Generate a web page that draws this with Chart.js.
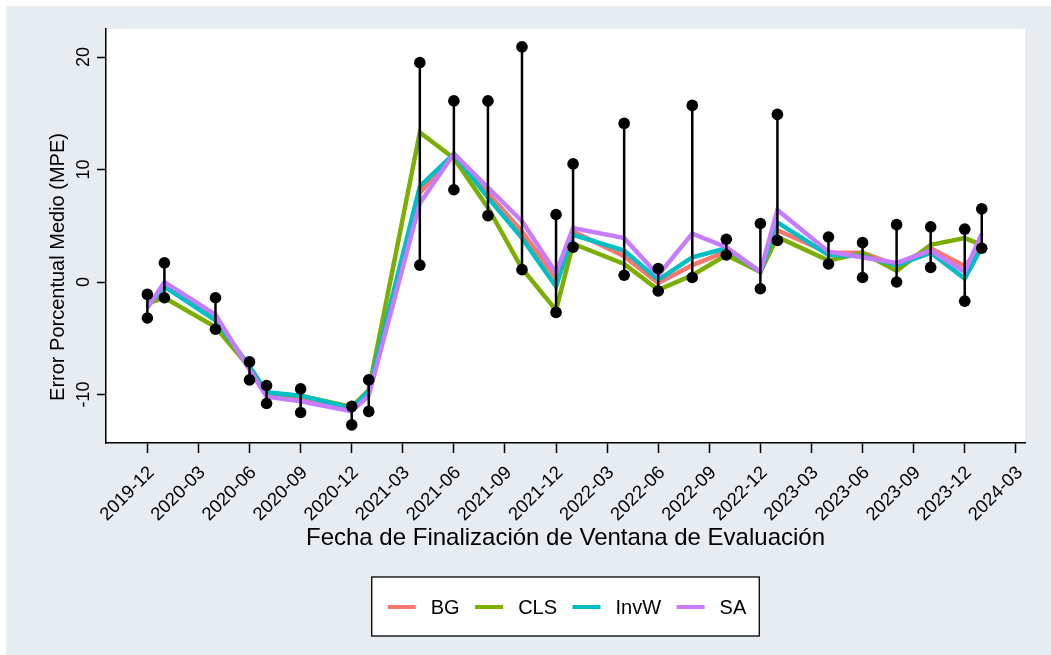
<!DOCTYPE html>
<html>
<head>
<meta charset="utf-8">
<script src="https://cdn.jsdelivr.net/npm/chart.js@4.4.1/dist/chart.umd.min.js"></script>
<style>
  html, body { margin: 0; padding: 0; background: #ffffff; }
  #wrap { position: absolute; left: 0; top: 0; width: 1051px; height: 655px; }
</style>
</head>
<body>
<div id="wrap"><canvas id="c" width="1051" height="655"></canvas></div>
<script>
// ---- data ----
const dates = ['2019-12','2020-01','2020-04','2020-06','2020-07','2020-09','2020-12','2021-01',
  '2021-04','2021-06','2021-08','2021-10','2021-12','2022-01','2022-04','2022-06','2022-08',
  '2022-10','2022-12','2023-01','2023-04','2023-06','2023-08','2023-10','2023-12','2024-01'];

const seriesBG   = [-2.2, -0.3, -3.2, -7.7, -10.0, -10.3, -11.3, -9.8, 7.9, 11.4, 7.9, 4.5, 0.3, 4.5, 2.3, -0.1, 1.5, 2.7, 0.9, 4.6, 2.6, 2.6, 1.5, 3.0, 1.4, 3.2];
const seriesCLS  = [-1.9, -1.4, -4.0, -7.6, -9.9, -10.1, -11.1, -9.6, 13.3, 11.0, 6.6, 1.2, -2.5, 3.4, 1.6, -0.7, 0.6, 2.4, 0.9, 4.0, 1.9, 2.6, 1.0, 3.3, 3.9, 3.3];
const seriesInvW = [-2.1, -0.4, -3.4, -7.5, -9.8, -10.1, -11.2, -9.7, 8.5, 11.4, 7.5, 3.9, -0.4, 4.2, 2.8, 0.2, 2.2, 3.0, 0.9, 5.3, 2.4, 2.3, 1.5, 2.6, 0.3, 3.1];
const seriesSA   = [-2.3, 0.0, -2.9, -7.8, -10.2, -10.6, -11.5, -10.1, 7.0, 11.4, 8.4, 5.4, 0.8, 4.8, 3.9, 0.6, 4.3, 3.1, 0.9, 6.4, 2.7, 2.2, 1.7, 2.8, 0.9, 4.3];

const rangeHi = [-1.1, 1.7, -1.4, -7.1, -9.2, -9.5, -11.05, -8.7, 19.5, 16.1, 16.1, 20.9, 6.0, 10.5, 14.1, 1.2, 15.7, 3.8, 5.2, 14.9, 4.0, 3.5, 5.1, 4.9, 4.7, 6.5];
const rangeLo = [-3.2, -1.4, -4.2, -8.7, -10.8, -11.6, -12.7, -11.5, 1.5, 8.2, 5.9, 1.1, -2.7, 3.1, 0.6, -0.8, 0.4, 2.4, -0.6, 3.7, 1.6, 0.4, 0.0, 1.3, -1.7, 3.0];

const xTickLabels = ['2019-12','2020-03','2020-06','2020-09','2020-12','2021-03','2021-06','2021-09',
  '2021-12','2022-03','2022-06','2022-09','2022-12','2023-03','2023-06','2023-09','2023-12','2024-03'];
const yTickValues = [-10, 0, 10, 20];

const seriesNames  = ['BG', 'CLS', 'InvW', 'SA'];
const seriesColors = ['#F8766D', '#7CAE00', '#00BFC4', '#C77CFF'];

const xTitle = 'Fecha de Finalización de Ventana de Evaluación';
const yTitle = 'Error Porcentual Medio (MPE)';

// month index (0 = 2019-12)
function monthIndex(s) {
  const [y, m] = s.split('-').map(Number);
  return (y - 2019) * 12 + (m - 12);
}
const xs = dates.map(monthIndex);
const xTickValues = xTickLabels.map(monthIndex);

const FONT = "'Liberation Sans', Arial, Helvetica, sans-serif";
const BGCOL = '#E6ECF0';

const allSeries = [seriesBG, seriesCLS, seriesInvW, seriesSA];
const lineSets = allSeries.map((arr, k) => ({
  type: 'line',
  label: seriesNames[k],
  data: arr.map((v, i) => ({ x: xs[i], y: v })),
  borderColor: seriesColors[k],
  backgroundColor: seriesColors[k],
  borderWidth: 4.5,
  pointRadius: 0,
  tension: 0,
  fill: false,
  order: 4 - k
}));

const errData = [];
xs.forEach((x, i) => {
  errData.push({ x: x, y: rangeLo[i] });
  errData.push({ x: x, y: rangeHi[i] });
  errData.push({ x: x, y: null });
});
const errSet = {
  type: 'line',
  label: 'range',
  data: errData,
  borderColor: '#000000',
  backgroundColor: '#000000',
  borderWidth: 2.5,
  pointRadius: 5.8,
  pointBorderWidth: 0,
  pointBackgroundColor: '#000000',
  spanGaps: false,
  tension: 0,
  fill: false,
  order: 0
};

const bgPlugin = {
  id: 'bgPlugin',
  beforeDraw(chart) {
    const ctx = chart.ctx;
    const a = chart.chartArea;
    ctx.save();
    ctx.fillStyle = '#ffffff';
    ctx.fillRect(0, 0, chart.width, chart.height);
    ctx.fillStyle = BGCOL;
    ctx.fillRect(6, 6, chart.width - 6, chart.height - 6);
    ctx.fillStyle = '#ffffff';
    ctx.fillRect(a.left, a.top, a.right - a.left, a.bottom - a.top);
    ctx.restore();
  }
};

const yTitlePlugin = {
  id: 'yTitle',
  afterDraw(chart) {
    const ctx = chart.ctx;
    ctx.save();
    ctx.font = '20px ' + FONT;
    ctx.fillStyle = '#000000';
    ctx.textAlign = 'center';
    ctx.textBaseline = 'middle';
    ctx.translate(58, 267);
    ctx.rotate(-Math.PI / 2);
    ctx.fillText(yTitle, 0, 0);
    ctx.restore();
  }
};

const legendPlugin = {
  id: 'boxLegend',
  afterDraw(chart) {
    const ctx = chart.ctx;
    const a = chart.chartArea;
    ctx.save();
    ctx.font = '20px ' + FONT;
    const lineLen = 28, gapText = 15, gapItem = 15.5, padL = 16, padR = 13;
    let total = padL + padR;
    const widths = seriesNames.map(n => ctx.measureText(n).width);
    widths.forEach((w, i) => { total += lineLen + gapText + w + (i < widths.length - 1 ? gapItem : 0); });
    const cx = (a.left + a.right) / 2;
    const left = cx - total / 2;
    const top = 577, h = 59;
    ctx.fillStyle = '#ffffff';
    ctx.fillRect(left, top, total, h);
    ctx.strokeStyle = '#000000';
    ctx.lineWidth = 1.3;
    ctx.strokeRect(left, top, total, h);
    const cy = top + 30;
    let x = left + padL;
    ctx.textBaseline = 'middle';
    ctx.textAlign = 'left';
    seriesNames.forEach((n, i) => {
      ctx.strokeStyle = seriesColors[i];
      ctx.lineWidth = 4;
      ctx.beginPath();
      ctx.moveTo(x, cy);
      ctx.lineTo(x + lineLen, cy);
      ctx.stroke();
      x += lineLen + gapText;
      ctx.fillStyle = '#000000';
      ctx.fillText(n, x, cy + 1);
      x += widths[i] + gapItem;
    });
    ctx.restore();
  }
};

new Chart(document.getElementById('c'), {
  data: { datasets: [errSet, ...lineSets] },
  options: {
    responsive: false,
    animation: false,
    events: [],
    layout: { padding: { left: 30, top: 29, right: 26, bottom: 0 } },
    plugins: {
      legend: { display: false },
      tooltip: { enabled: false }
    },
    scales: {
      x: {
        type: 'linear',
        min: -2.43,
        max: 51.54,
        afterBuildTicks: (s) => { s.ticks = xTickValues.map(v => ({ value: v })); },
        afterFit: (s) => { s.height = 212; },
        ticks: {
          autoSkip: false,
          minRotation: 45,
          maxRotation: 45,
          padding: 9,
          labelOffset: 4,
          color: '#000000',
          font: { family: FONT, size: 18.5 },
          callback: (v, i) => xTickLabels[i]
        },
        grid: {
          display: true,
          drawOnChartArea: false,
          drawTicks: true,
          tickLength: 10,
          tickColor: '#000000',
          tickWidth: 1.5
        },
        border: { display: true, color: '#000000', width: 1.5 },
        title: {
          display: true,
          text: xTitle,
          color: '#000000',
          font: { family: FONT, size: 24 },
          padding: { top: 0, bottom: 102 }
        }
      },
      y: {
        type: 'linear',
        min: -14.31,
        max: 22.49,
        afterBuildTicks: (s) => { s.ticks = yTickValues.map(v => ({ value: v })); },
        afterFit: (s) => { s.width = 76; },
        ticks: {
          minRotation: 90,
          maxRotation: 90,
          crossAlign: 'center',
          padding: 0,
          color: '#000000',
          font: { family: FONT, size: 18 }
        },
        grid: {
          display: true,
          drawOnChartArea: false,
          drawTicks: true,
          tickLength: 9,
          tickColor: '#000000',
          tickWidth: 1.5
        },
        border: { display: true, color: '#000000', width: 1.5 },
        title: { display: false }
      }
    }
  },
  plugins: [bgPlugin, yTitlePlugin, legendPlugin]
});
</script>
</body>
</html>
